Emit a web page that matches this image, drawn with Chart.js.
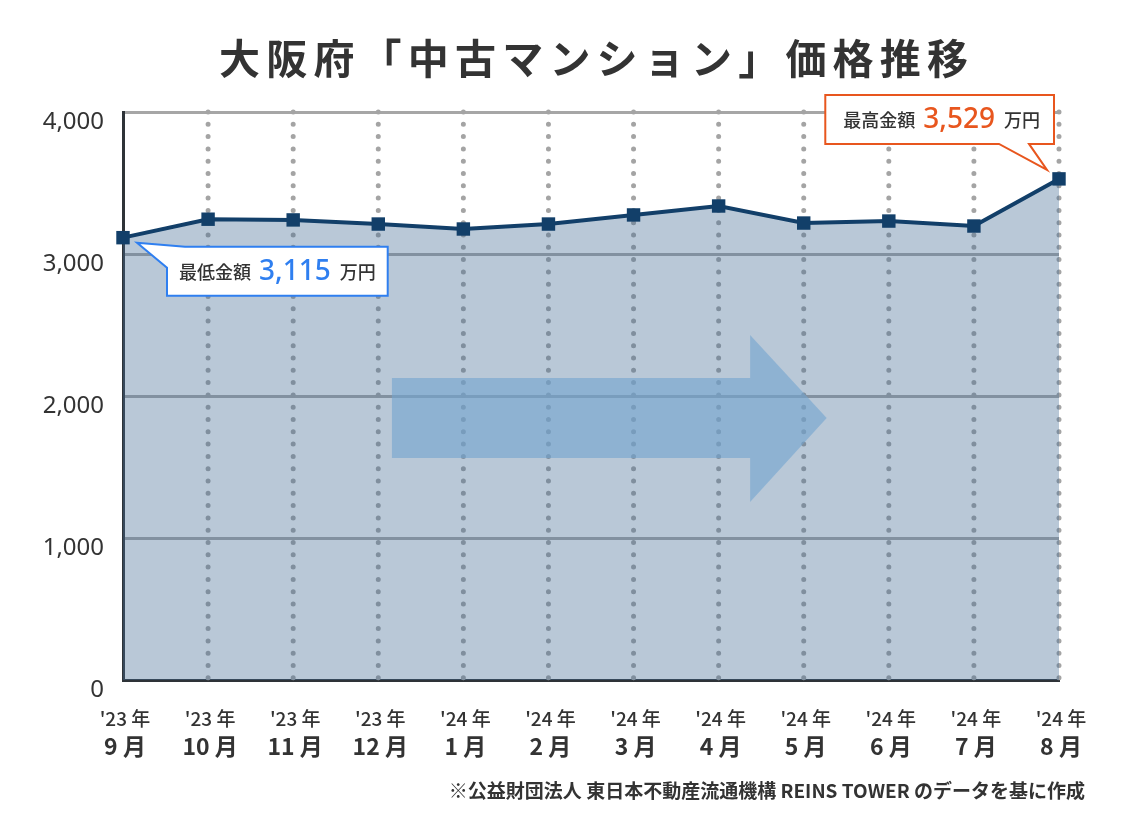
<!DOCTYPE html>
<html lang="ja">
<head>
<meta charset="utf-8">
<title>大阪府「中古マンション」価格推移</title>
<script src="https://cdn.jsdelivr.net/npm/chart.js@4.4.1/dist/chart.umd.min.js"></script>
<style>
  body { margin: 0; background: #fff; }
  #wrap { position: relative; width: 1121px; height: 835px; }
  #chart { position: absolute; left: 0; top: 0; }
  #title {
    position: absolute; left: 219px; top: 36px; margin: 0;
    font: 700 41px/1 "Noto Sans CJK JP", sans-serif;
    letter-spacing: 6.2px; color: #333; white-space: nowrap;
  }
  #source {
    position: absolute; right: 36px; top: 780px; margin: 0;
    font: 700 19px/1 "Noto Sans CJK JP", sans-serif;
    color: #333; white-space: nowrap;
  }
</style>
</head>
<body>
<div id="wrap">
  <canvas id="chart" width="1121" height="835"></canvas>
  <h1 id="title">大阪府「中古マンション」価格推移</h1>
  <p id="source">※公益財団法人 東日本不動産流通機構 REINS TOWER のデータを基に作成</p>
</div>
<script>
// 年・月ラベル
const years = ["'23 年", "'23 年", "'23 年", "'23 年", "'24 年", "'24 年", "'24 年", "'24 年", "'24 年", "'24 年", "'24 年", "'24 年"];
const months = ["9 月", "10 月", "11 月", "12 月", "1 月", "2 月", "3 月", "4 月", "5 月", "6 月", "7 月", "8 月"];
// 成約価格（万円）
const prices = [3115, 3245, 3240, 3211, 3176, 3211, 3275, 3338, 3218, 3232, 3197, 3529];
const yTicks = [0, 1000, 2000, 3000, 4000];

const lowIdx = prices.indexOf(Math.min(...prices));
const highIdx = prices.indexOf(Math.max(...prices));

const NAVY = '#123f69';
const TEXT = '#333333';

function fmt(v) {
    return v.toLocaleString('en-US');
}

// callout box: label + big number + 万円
function drawCallout(ctx, pt, color, value, side) {
    const label = side === 'low' ? '最低金額' : '最高金額';
    const labelFont = '500 18px "Noto Sans CJK JP"';
    const numFont = '500 28px "Noto Sans", "Noto Sans CJK JP"';
    ctx.save();
    ctx.font = labelFont;
    const wLabel = ctx.measureText(label).width;
    const wUnit = ctx.measureText('万円').width;
    ctx.font = numFont;
    const wNum = ctx.measureText(fmt(value)).width;
    const padL = side === 'low' ? 12 : 18;
    const padR = side === 'low' ? 12 : 14;
    const gap1 = 8, gap2 = 9, h = 49;
    const w = padL + padR + wLabel + gap1 + wNum + gap2 + wUnit;

    let x0, y0;
    const path = new Path2D();
    if (side === 'low') {
        x0 = pt.x + 44; y0 = pt.y + 9;
        path.moveTo(x0 + 18, y0);
        path.lineTo(x0 + w, y0);
        path.lineTo(x0 + w, y0 + h);
        path.lineTo(x0, y0 + h);
        path.lineTo(x0, y0 + 21);
        path.lineTo(pt.x + 14, pt.y + 5);
        path.closePath();
    } else {
        x0 = pt.x - 5 - w; y0 = pt.y - 35 - h;
        const x1 = x0 + w, y1 = y0 + h;
        path.moveTo(x0, y0);
        path.lineTo(x1, y0);
        path.lineTo(x1, y1);
        path.lineTo(pt.x - 30, y1);
        path.lineTo(pt.x - 12, pt.y - 9);
        path.lineTo(pt.x - 60, y1);
        path.lineTo(x0, y1);
        path.closePath();
    }
    ctx.fillStyle = '#fff';
    ctx.fill(path);
    ctx.strokeStyle = color;
    ctx.lineWidth = 2;
    ctx.lineJoin = 'miter';
    ctx.stroke(path);

    const cy = y0 + h / 2;
    ctx.textBaseline = 'middle';
    ctx.textAlign = 'left';
    let tx = x0 + padL;
    ctx.font = labelFont;
    ctx.fillStyle = TEXT;
    ctx.fillText(label, tx, cy + 1);
    tx += wLabel + gap1;
    ctx.font = numFont;
    ctx.fillStyle = color;
    ctx.fillText(fmt(value), tx, cy + 1);
    tx += wNum + gap2;
    ctx.font = labelFont;
    ctx.fillStyle = TEXT;
    ctx.fillText('万円', tx, cy + 1);
    ctx.restore();
}

const decor = {
    id: 'decor',
    beforeDatasetsDraw(chart) {
        // dotted vertical guide lines
        const { ctx, chartArea, scales } = chart;
        ctx.save();
        ctx.strokeStyle = '#a4a4a4';
        ctx.lineWidth = 5;
        ctx.lineCap = 'round';
        ctx.setLineDash([0, 12.3]);
        for (let i = 1; i < months.length; i++) {
            const x = scales.x.getPixelForValue(i);
            ctx.beginPath();
            ctx.moveTo(x, chartArea.top);
            ctx.lineTo(x, chartArea.bottom - 2);
            ctx.stroke();
        }
        ctx.restore();
    },
    afterDatasetsDraw(chart) {
        // big translucent arrow (upward trend mark)
        const { ctx, scales } = chart;
        const X = v => scales.x.getPixelForValue(v);
        const Y = v => scales.y.getPixelForValue(v);
        ctx.save();
        ctx.fillStyle = 'rgba(115,165,208,0.6)';
        ctx.beginPath();
        ctx.moveTo(X(3.16), Y(2127));
        ctx.lineTo(X(7.37), Y(2127));
        ctx.lineTo(X(7.37), Y(2430));
        ctx.lineTo(X(8.27), Y(1845));
        ctx.lineTo(X(7.37), Y(1254));
        ctx.lineTo(X(7.37), Y(1563));
        ctx.lineTo(X(3.16), Y(1563));
        ctx.closePath();
        ctx.fill();
        ctx.restore();
    },
    afterDraw(chart) {
        const { ctx, scales } = chart;
        ctx.save();
        ctx.textAlign = 'center';
        ctx.textBaseline = 'middle';
        ctx.fillStyle = TEXT;
        for (let i = 0; i < months.length; i++) {
            const x = scales.x.getPixelForValue(i) + 2;
            ctx.font = '500 19px "Noto Sans CJK JP"';
            ctx.fillText(years[i], x, 719);
            ctx.font = '700 23px "Noto Sans CJK JP"';
            ctx.fillText(months[i], x, 746);
        }
        ctx.restore();

        const meta = chart.getDatasetMeta(0);
        const lowPt = meta.data[lowIdx];
        const highPt = meta.data[highIdx];
        drawCallout(ctx, lowPt, '#2f7ff0', prices[lowIdx], 'low');
        drawCallout(ctx, highPt, '#e8561e', prices[highIdx], 'high');
    }
};

new Chart(document.getElementById('chart'), {
    type: 'line',
    data: {
        labels: months,
        datasets: [{
            data: prices,
            borderColor: NAVY,
            borderWidth: 4,
            backgroundColor: 'rgba(70,110,150,0.38)',
            fill: 'origin',
            tension: 0,
            pointStyle: 'rect',
            pointRadius: 9.5,
            pointBackgroundColor: NAVY,
            pointBorderColor: NAVY,
            pointBorderWidth: 0,
            clip: false
        }]
    },
    options: {
        responsive: false,
        animation: false,
        events: [],
        layout: { padding: { left: 0, top: 112, right: 62, bottom: 155 } },
        plugins: {
            legend: { display: false },
            tooltip: { enabled: false }
        },
        scales: {
            x: {
                type: 'category',
                offset: false,
                grid: { display: false },
                border: { display: true, color: '#2e3338', width: 3 },
                ticks: { display: false },
                afterFit(scale) { scale.height = 0; }
            },
            y: {
                min: 0,
                max: 4000,
                afterBuildTicks(scale) {
                    scale.ticks = yTicks.map(v => ({ value: v }));
                },
                grid: { color: '#a6a6a6', lineWidth: 3, drawTicks: false },
                border: { display: true, color: '#2e3338', width: 3 },
                ticks: {
                    padding: 19,
                    labelOffset: 10,
                    color: TEXT,
                    font: { family: '"Noto Sans", sans-serif', size: 24 },
                    callback: v => fmt(v)
                },
                afterFit(scale) { scale.width = 123; }
            }
        }
    },
    plugins: [decor]
});
</script>
</body>
</html>
